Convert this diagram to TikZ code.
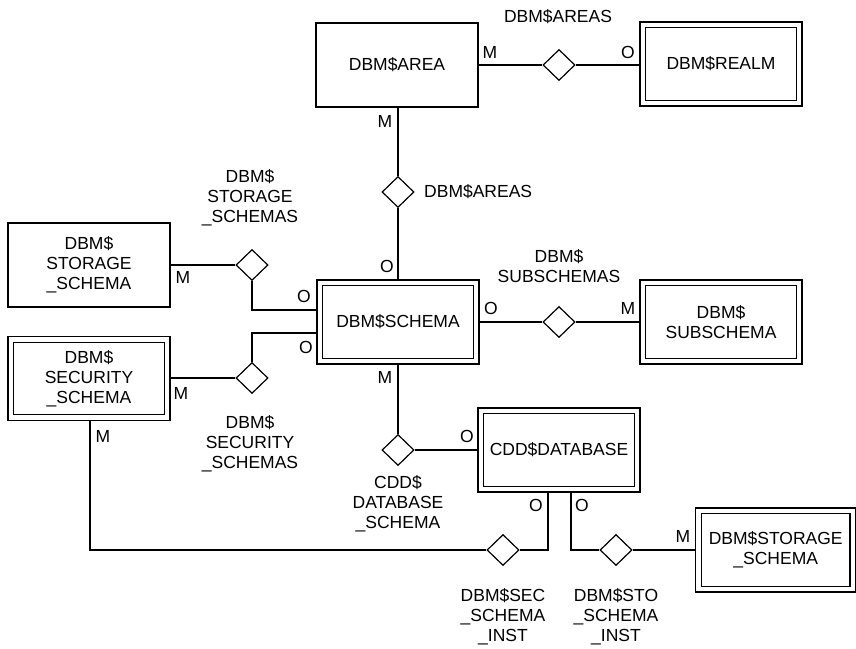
\documentclass[tikz,border=0pt]{standalone}
\usepackage{fontspec}
\setmainfont{Liberation Sans}
\usetikzlibrary{shapes.geometric,calc}
\begin{document}
\begin{tikzpicture}[x=1pt,y=-1pt,
  every node/.style={font=\fontsize{17.5}{20}\selectfont},
  conn/.style={line width=1.2pt},
  ebox/.style={draw, line width=1.2pt, minimum width=162pt, minimum height=84pt,
               inner sep=0pt, align=center, fill=white},
  dbox/.style={ebox, double, double distance=4.5pt, minimum width=156.3pt,
               minimum height=78.3pt, outer sep=3.45pt},
  rel/.style={draw, diamond, line width=1.2pt, minimum width=32pt,
              minimum height=31pt, inner sep=0pt, fill=white},
  card/.style={inner sep=0pt},
  rlabel/.style={align=center, inner sep=0pt}]

% canvas
\fill[white] (0,0) rectangle (856,648);
\useasboundingbox (0,0) rectangle (856,648);

% entities
\node[ebox] (area)     at (397,65)    {DBM\$AREA};
\node[dbox] (realm)    at (721,64)    {DBM\$REALM};
\node[dbox] (schema)   at (398,322)   {DBM\$SCHEMA};
\node[dbox] (subsch)   at (721,322)   {DBM\$\\SUBSCHEMA};
\node[ebox] (stor)     at (89,265)    {DBM\$\\STORAGE\\\_SCHEMA};
\node[dbox] (secur)    at (89,378.5)  {DBM\$\\SECURITY\\\_SCHEMA};
\node[dbox] (cdd)      at (559,450)   {CDD\$DATABASE};
\node[dbox, minimum width=154.3pt] (stor2) at (775.7,550) {DBM\$STORAGE\\\_SCHEMA};

% relationships
\node[rel] (rAreasH)  at (559,65)  {};
\node[rel] (rAreasV)  at (398,192) {};
\node[rel] (rStorSch) at (252,265) {};
\node[rel] (rSecSch)  at (252,378) {};
\node[rel] (rSubSch)  at (559,322) {};
\node[rel] (rCddSch)  at (398,450) {};
\node[rel] (rSecInst) at (503,550) {};
\node[rel] (rStoInst) at (616,550) {};

% connectors
\draw[conn] (area.east) -- (rAreasH.west);
\draw[conn] (rAreasH.east) -- (realm.west |- rAreasH);
\draw[conn] (area.south -| rAreasV) -- (rAreasV.north);
\draw[conn] (rAreasV.south) -- (schema.north);
\draw[conn] (stor.east) -- (rStorSch.west);
\draw[conn] (rStorSch.south) |- ($(schema.west)+(0,-12)$);
\draw[conn] (rSecSch.north) |- ($(schema.west)+(0,11)$);
\draw[conn] (secur.east |- rSecSch) -- (rSecSch.west);
\draw[conn] (schema.east) -- (rSubSch.west);
\draw[conn] (rSubSch.east) -- (subsch.west |- rSubSch);
\draw[conn] (schema.south) -- (rCddSch.north);
\draw[conn] (rCddSch.east) -- (cdd.west);
\draw[conn] ($(cdd.south)+(-11,0)$) |- (rSecInst.east);
\draw[conn] (rSecInst.west) -| ($(secur.south)+(1,0)$);
\draw[conn] ($(cdd.south)+(12,0)$) |- (rStoInst.west);
\draw[conn] (rStoInst.east) -- (stor2.west |- rStoInst);

% cardinalities
\node[card] (cA1) at (490,52)  {M};
\node[card] (cA2) at (628,52)  {O};
\node[card] (cA3) at (385,121) {M};
\node[card] (cA4) at (387,266) {O};
\node[card] (cS1) at (183,277) {M};
\node[card] (cS2) at (304,296) {O};
\node[card] (cS3) at (306,347) {O};
\node[card] (cS4) at (181,393) {M};
\node[card] (cS5) at (103,436) {M};
\node[card] (cB1) at (491,308) {O};
\node[card] (cB2) at (628,308) {M};
\node[card] (cC1) at (385,377) {M};
\node[card] (cC2) at (467,436) {O};
\node[card] (cC3) at (536,505) {O};
\node[card] (cC4) at (582,505) {O};
\node[card] (cC5) at (683,536) {M};

% relationship names
\node[rlabel] (lAreasH)  at (558,17)   {DBM\$AREAS};
\node[rlabel, anchor=west] (lAreasV) at (424,192) {DBM\$AREAS};
\node[rlabel] (lStorSch) at (250,198)  {DBM\$\\STORAGE\\\_SCHEMAS};
\node[rlabel] (lSubSch)  at (559,266)  {DBM\$\\SUBSCHEMAS};
\node[rlabel] (lSecSch)  at (250,444)  {DBM\$\\SECURITY\\\_SCHEMAS};
\node[rlabel] (lCddSch)  at (398,504)  {CDD\$\\DATABASE\\\_SCHEMA};
\node[rlabel] (lSecInst) at (503,617)  {DBM\$SEC\\\_SCHEMA\\\_INST};
\node[rlabel] (lStoInst) at (616,617)  {DBM\$STO\\\_SCHEMA\\\_INST};
\end{tikzpicture}
\end{document}
